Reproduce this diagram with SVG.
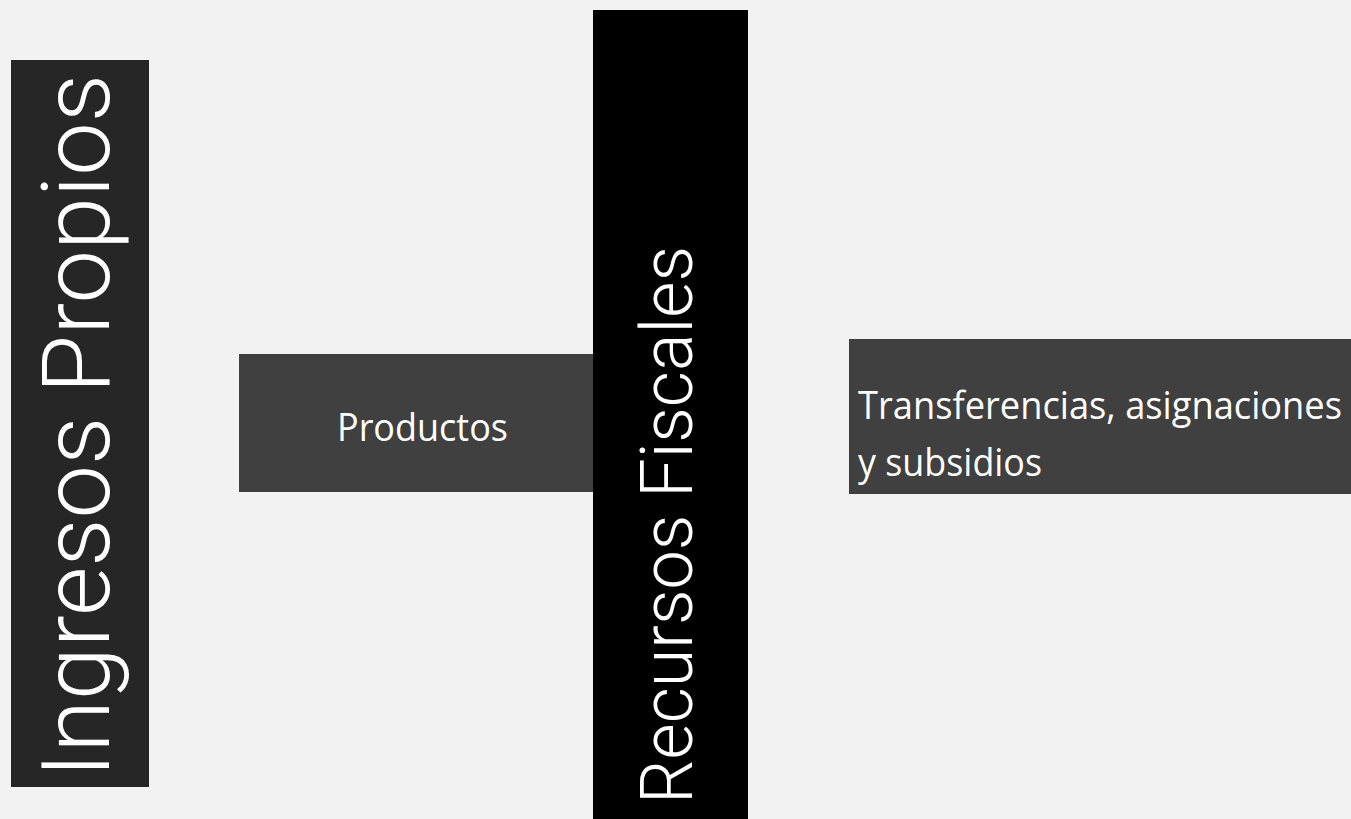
<svg xmlns="http://www.w3.org/2000/svg" width="1351" height="819" viewBox="0 0 1351 819">
<style>
.bg{fill:#f2f2f2}
.box{fill:#404040}
.title{fill:#ffffff;font-family:Roboto,"Liberation Sans",sans-serif;font-weight:300}
.label{fill:#ffffff;font-family:"Open Sans","Noto Sans","Liberation Sans",sans-serif;font-size:38px}
</style>
<rect class="bg" x="0" y="0" width="1351" height="819"/>
<g id="ingresos-propios">
<rect x="11" y="60" width="138" height="727" fill="#262626"/>
<text class="title" font-size="94" transform="translate(109,778) rotate(-90)" x="0" y="0" textLength="704" lengthAdjust="spacingAndGlyphs">Ingresos Propios</text>
</g>
<g id="productos">
<rect class="box" x="239" y="354" width="360" height="138"/>
<text class="label" x="337" y="441" textLength="171" lengthAdjust="spacingAndGlyphs">Productos</text>
</g>
<g id="recursos-fiscales">
<rect x="593" y="10" width="155" height="809" fill="#000000"/>
<text class="title" font-size="72" transform="translate(692,804) rotate(-90)" x="0" y="0" textLength="558" lengthAdjust="spacingAndGlyphs">Recursos Fiscales</text>
</g>
<g id="transferencias">
<rect class="box" x="849" y="339" width="502" height="155"/>
<text class="label" x="858" y="419" textLength="484" lengthAdjust="spacingAndGlyphs">Transferencias, asignaciones</text>
<text class="label" x="858" y="476" textLength="184" lengthAdjust="spacingAndGlyphs">y subsidios</text>
</g>
<g id="connectors"/>
</svg>
